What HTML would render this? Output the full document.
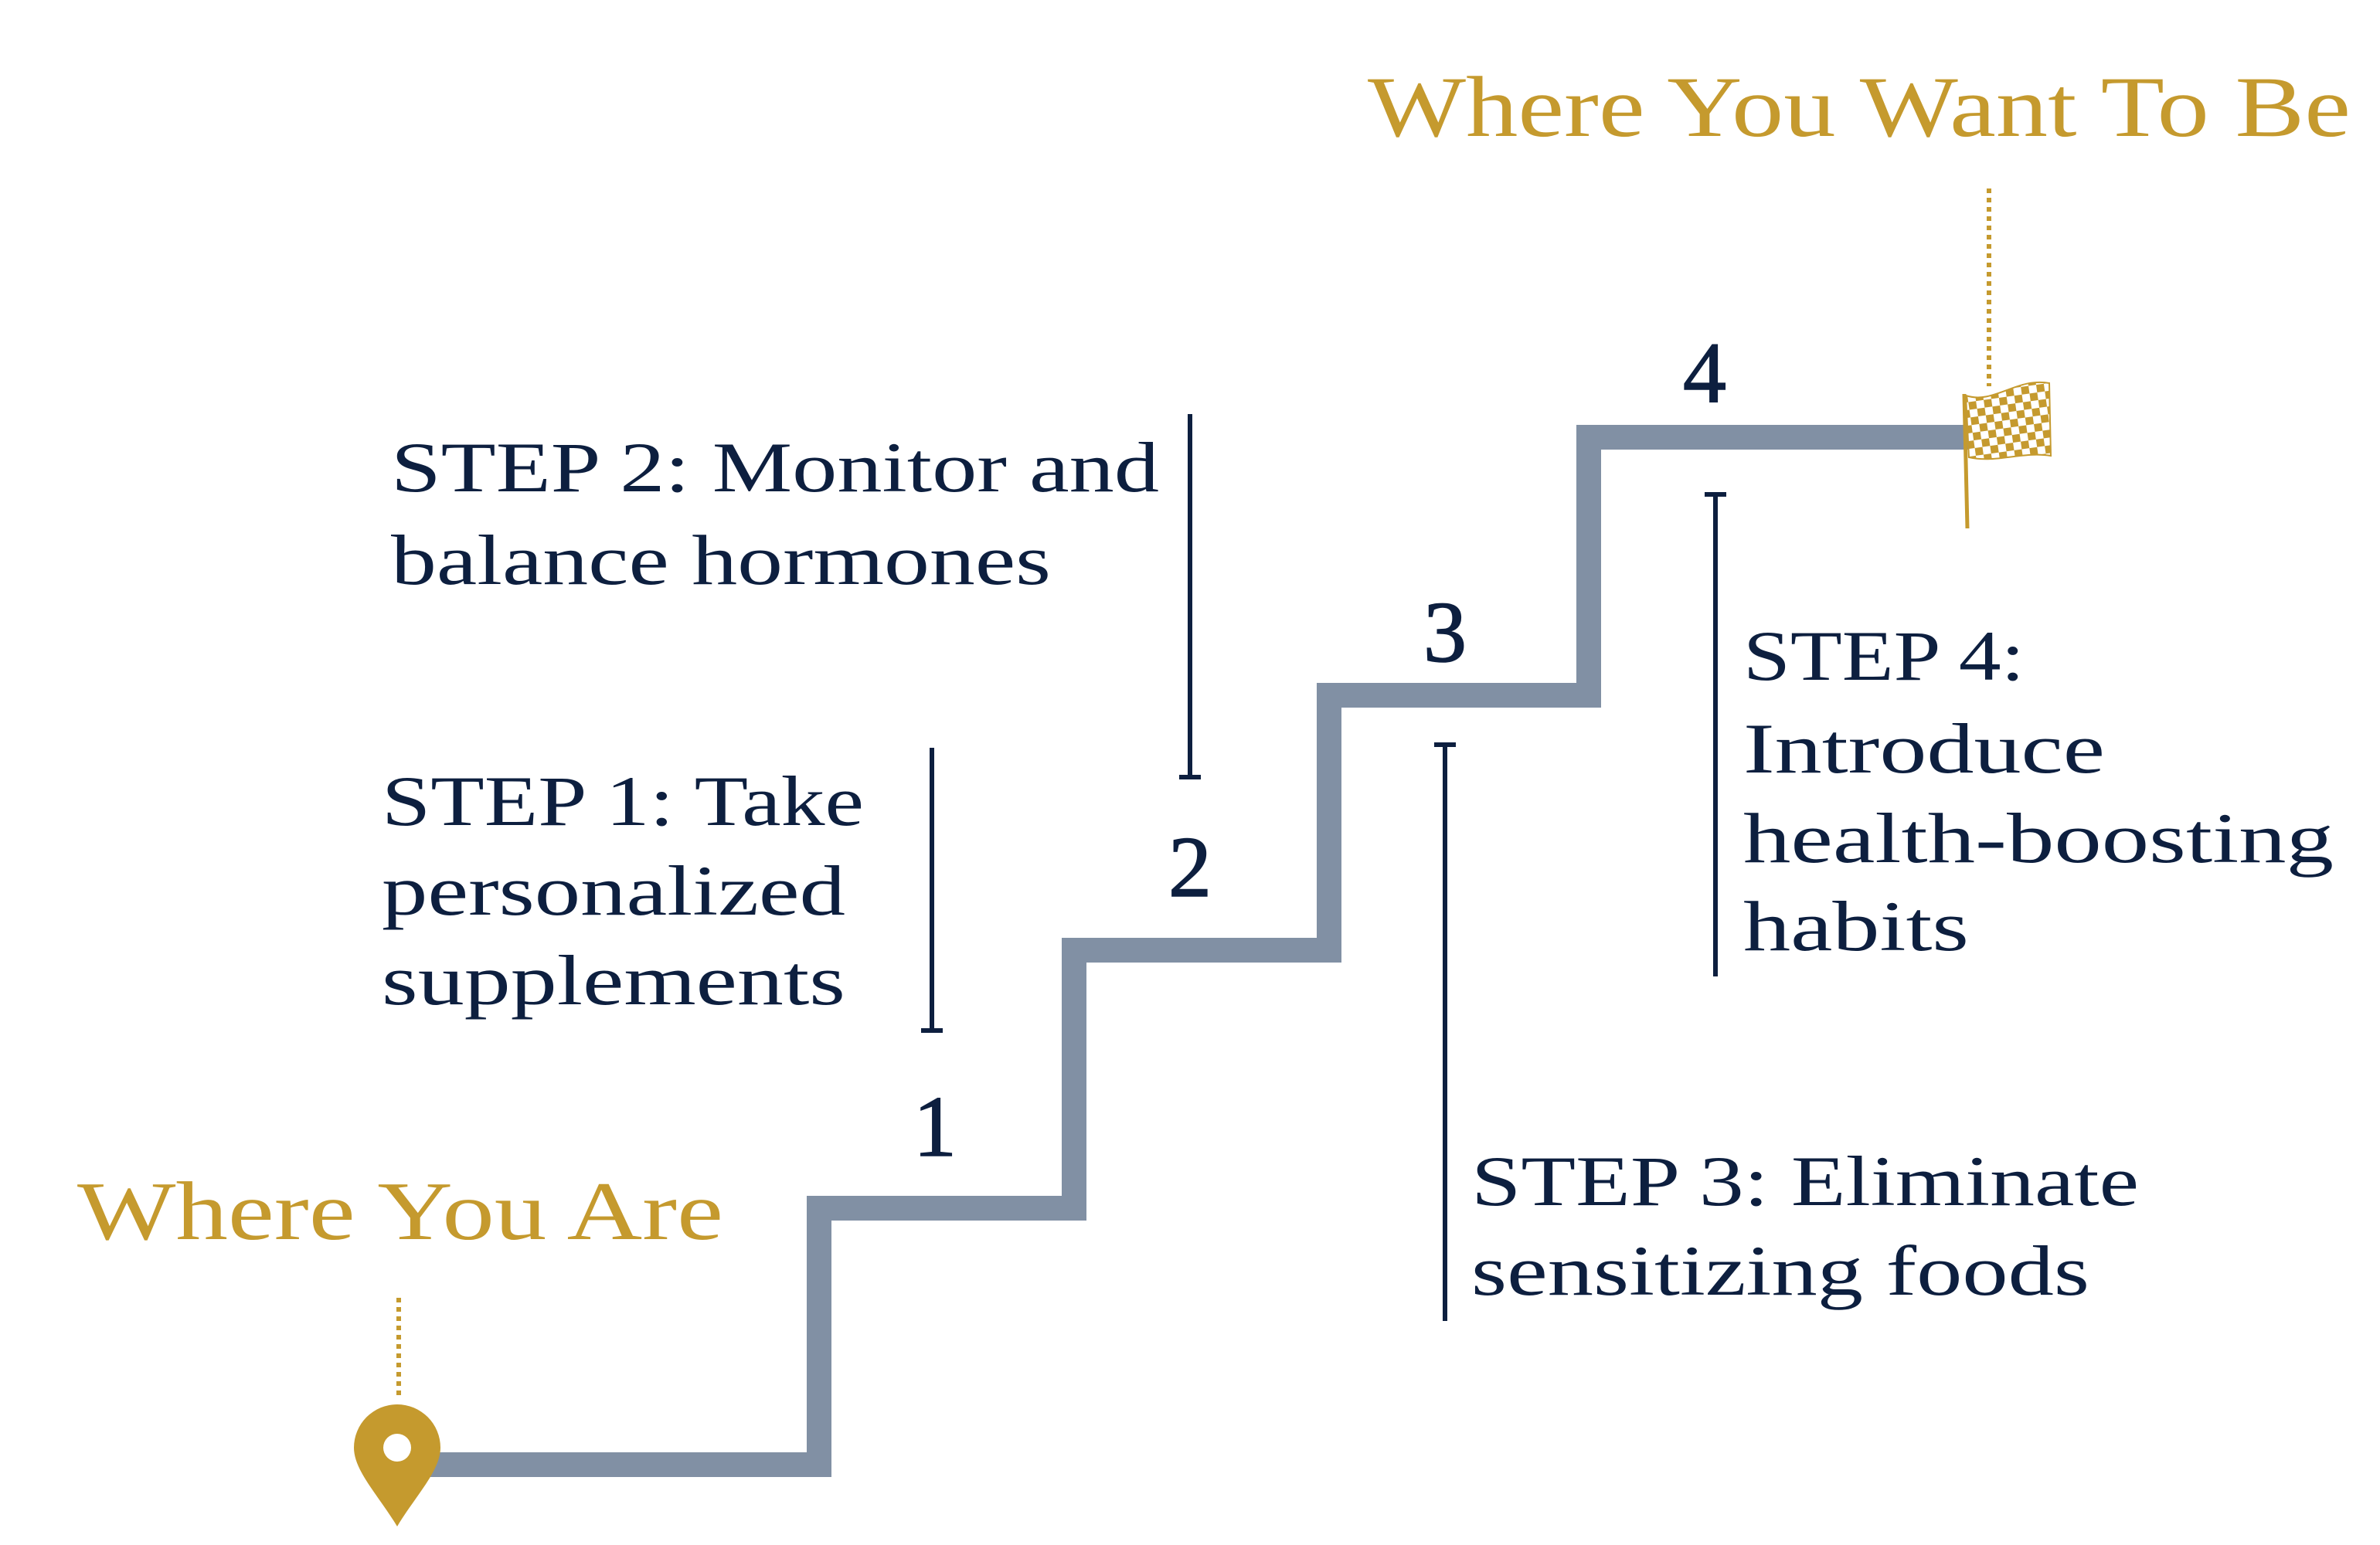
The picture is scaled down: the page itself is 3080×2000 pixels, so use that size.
<!DOCTYPE html>
<html><head><meta charset="utf-8"><style>
html,body{margin:0;padding:0;background:#fff;}
svg{display:block}
text{font-family:"Liberation Serif",serif;}
</style></head><body>
<svg width="3080" height="2000" viewBox="0 0 1540 1000" xmlns="http://www.w3.org/2000/svg">
<defs>
<pattern id="chk" width="10" height="10" patternUnits="userSpaceOnUse" patternTransform="rotate(-8)">
<rect width="10" height="10" fill="#fff"/>
<rect width="5" height="5" fill="#c59a2e"/>
<rect x="5" y="5" width="5" height="5" fill="#c59a2e"/>
</pattern>
</defs>
<polyline points="275,948 530,948 530,782 695,782 695,615 860,615 860,450 1028,450 1028,283 1275,283" fill="none" stroke="#8190a4" stroke-width="16"/>
<line x1="258" y1="840" x2="258" y2="906" stroke="#c59a2e" stroke-width="3" stroke-dasharray="3,3"/>
<path d="M257,988 C245,968 229,952 229,937 A28,28 0 0 1 285,937 C285,952 269,968 257,988 Z" fill="#c59a2e"/>
<circle cx="257" cy="937" r="9" fill="#fff"/>
<line x1="1287" y1="122" x2="1287" y2="250" stroke="#c59a2e" stroke-width="3" stroke-dasharray="3,3"/>
<line x1="1273" y1="342" x2="1271" y2="255" stroke="#c59a2e" stroke-width="2.5"/>
<path d="M1272,256 C1290,262 1305,244 1326,248 L1327,295 C1308,292 1292,300 1274,296 Z" fill="url(#chk)" stroke="#c59a2e" stroke-width="1"/>
<text x="50" y="802" font-size="54" fill="#c59a2e" textLength="418" lengthAdjust="spacingAndGlyphs">Where You Are</text>
<text x="885" y="88" font-size="56" fill="#c59a2e" textLength="636" lengthAdjust="spacingAndGlyphs">Where You Want To Be</text>
<g fill="#0d1f3f" font-size="56" text-anchor="middle" stroke="#0d1f3f" stroke-width="0.8">
<text x="605" y="748">1</text>
<text x="770" y="580">2</text>
<text x="935" y="428">3</text>
<text x="1103" y="260">4</text>
</g>
<g fill="#0d1f3f" font-size="46">
<text x="253" y="318" textLength="497" lengthAdjust="spacingAndGlyphs">STEP 2: Monitor and</text>
<text x="253" y="378" textLength="427" lengthAdjust="spacingAndGlyphs">balance hormones</text>
<text x="247" y="534" textLength="312" lengthAdjust="spacingAndGlyphs">STEP 1: Take</text>
<text x="247" y="592" textLength="300" lengthAdjust="spacingAndGlyphs">personalized</text>
<text x="247" y="650" textLength="300" lengthAdjust="spacingAndGlyphs">supplements</text>
<text x="952" y="780" textLength="432" lengthAdjust="spacingAndGlyphs">STEP 3: Eliminate</text>
<text x="952" y="838" textLength="400" lengthAdjust="spacingAndGlyphs">sensitizing foods</text>
<text x="1128" y="440" textLength="182" lengthAdjust="spacingAndGlyphs">STEP 4:</text>
<text x="1128" y="500" textLength="234" lengthAdjust="spacingAndGlyphs">Introduce</text>
<text x="1128" y="558" textLength="382" lengthAdjust="spacingAndGlyphs">health-boosting</text>
<text x="1128" y="615" textLength="146" lengthAdjust="spacingAndGlyphs">habits</text>
</g>
<g stroke="#0d1f3f" stroke-width="3">
<line x1="770" y1="268" x2="770" y2="503"/><line x1="763" y1="503" x2="777" y2="503"/>
<line x1="603" y1="484" x2="603" y2="667"/><line x1="596" y1="667" x2="610" y2="667"/>
<line x1="935" y1="482" x2="935" y2="855"/><line x1="928" y1="482" x2="942" y2="482"/>
<line x1="1110" y1="320" x2="1110" y2="632"/><line x1="1103" y1="320" x2="1117" y2="320"/>
</g>
</svg>
</body></html>
